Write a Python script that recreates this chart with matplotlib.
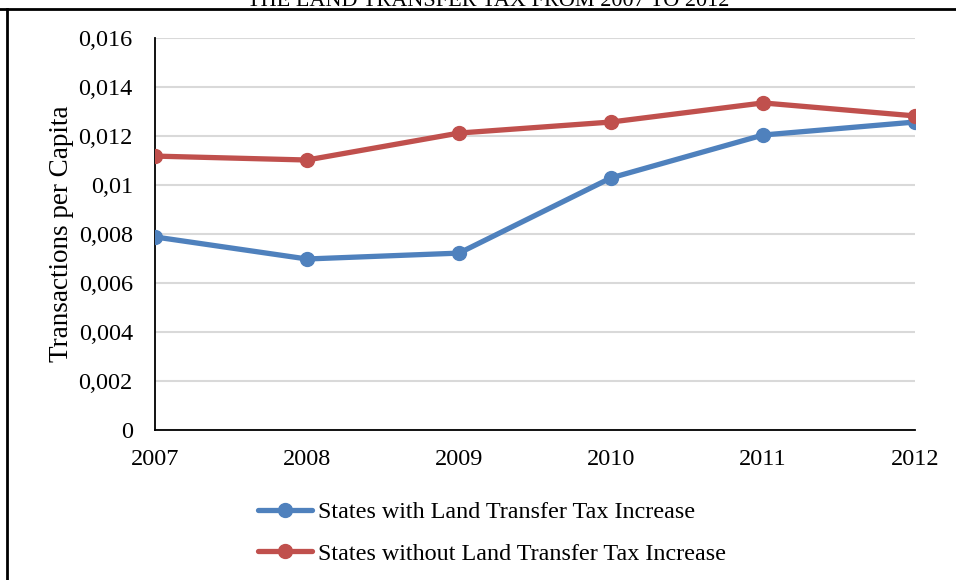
import matplotlib
matplotlib.use("Agg")
import matplotlib.pyplot as plt
from matplotlib.lines import Line2D
from matplotlib.ticker import FixedLocator

years = ["2007", "2008", "2009", "2010", "2011", "2012"]
with_increase = [0.00788, 0.00698, 0.00722, 0.01029, 0.01204, 0.01257]
without_increase = [0.01118, 0.01102, 0.01212, 0.01257, 0.01335, 0.01282]
ytick_vals = [0, 0.002, 0.004, 0.006, 0.008, 0.010, 0.012, 0.014, 0.016]
ytick_labels = ["0", "0,002", "0,004", "0,006", "0,008", "0,01", "0,012", "0,014", "0,016"]

plt.rcParams['font.family'] = ['Liberation Serif', 'DejaVu Serif']

W, H = 956, 580
fig = plt.figure(figsize=(W / 100, H / 100), dpi=100)
ax = fig.add_axes([155 / W, 1 - 430 / H, (915 - 155) / W, (430 - 38) / H])

x = list(range(len(years)))
blue = "#4F81BD"
red = "#C0504D"
ax.plot(x, with_increase, color=blue, lw=3.8, marker='o', ms=10,
        label="States with Land Transfer Tax Increase", solid_capstyle='round', zorder=3)
ax.plot(x, without_increase, color=red, lw=3.8, marker='o', ms=10,
        label="States without Land Transfer Tax Increase", solid_capstyle='round', zorder=3)

ax.set_xlim(0, len(years) - 1)
ax.set_ylim(0, 0.016)
ax.set_xticks(x)
ax.set_xticklabels(years, fontsize=17.5)
ax.yaxis.set_major_locator(FixedLocator(ytick_vals))
ax.set_yticklabels(ytick_labels, fontsize=17.5)
ax.tick_params(axis='both', length=0)
ax.tick_params(axis='x', pad=14)
ax.tick_params(axis='y', pad=16)
ax.grid(axis='y', color='#D9D9D9', lw=1.5)
ax.set_axisbelow(True)
for s in ['top', 'right']:
    ax.spines[s].set_visible(False)
ax.spines['left'].set_color('black')
ax.spines['bottom'].set_color('black')
ax.spines['left'].set_linewidth(1.3)
ax.spines['bottom'].set_linewidth(1.3)
ax.spines['left'].set_zorder(2)

fig.text(62 / W, 1 - 234 / H, "Transactions per Capita", rotation=90,
         ha='center', va='center', fontsize=19.5)

handles, labels = ax.get_legend_handles_labels()
leg = fig.legend(handles, labels, loc='center left',
                 bbox_to_anchor=(246 / W, 1 - 533 / H), frameon=False,
                 fontsize=17.4, handlelength=2.25, handletextpad=0.25,
                 labelspacing=0.82, borderpad=0)

# border lines of the surrounding frame
fig.add_artist(Line2D([0, 1], [1 - 9 / H, 1 - 9 / H], color='black', lw=2,
                      transform=fig.transFigure))
fig.add_artist(Line2D([7 / W, 7 / W], [0, 1 - 9 / H], color='black', lw=2,
                      transform=fig.transFigure))

# cut-off title (only its lower part is visible in the reference)
fig.text(488 / W, 1 - 6 / H, "THE LAND TRANSFER TAX FROM 2007 TO 2012",
         ha='center', va='baseline', fontsize=16)

fig.savefig("out.png", dpi=100)
